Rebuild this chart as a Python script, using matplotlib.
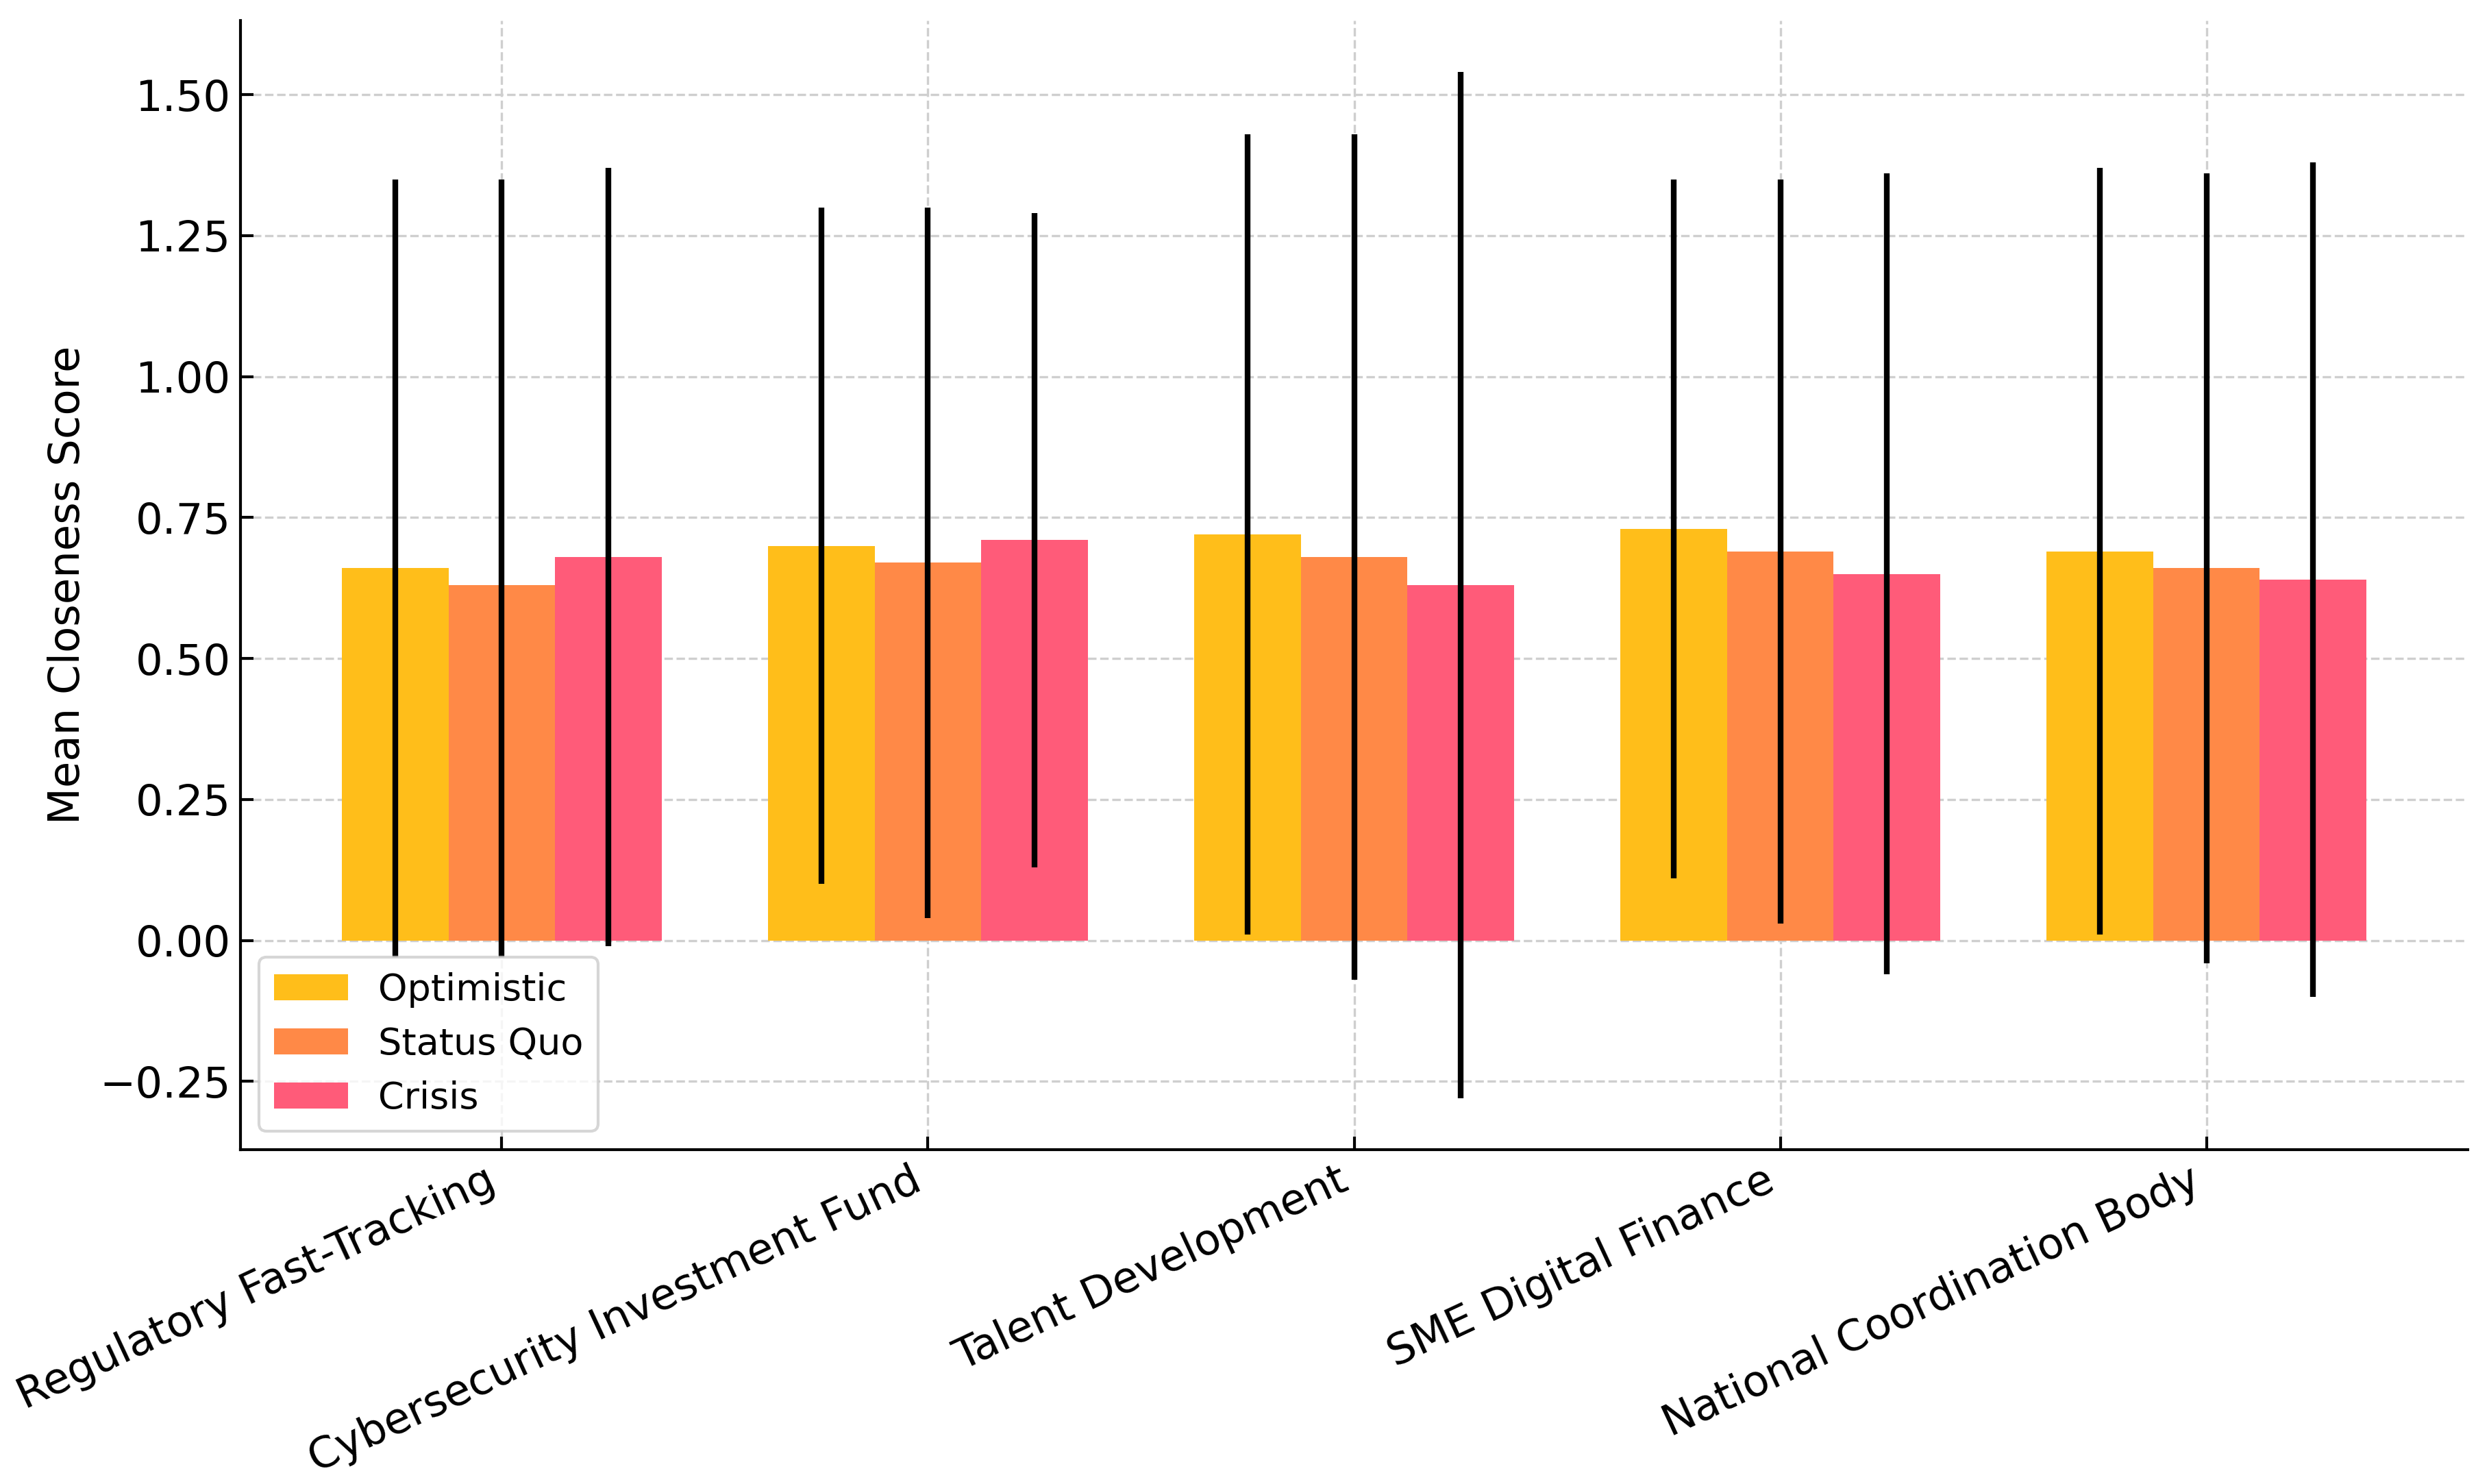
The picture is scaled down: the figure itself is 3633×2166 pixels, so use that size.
import matplotlib
matplotlib.use('Agg')
import matplotlib.pyplot as plt
import numpy as np


policies = ['Regulatory Fast-Tracking', 'Cybersecurity Investment Fund',
            'Talent Development', 'SME Digital Finance', 'National Coordination Body']
scenarios = ['Optimistic', 'Status Quo', 'Crisis']

# mean closeness scores per scenario
optimistic = [0.66, 0.70, 0.72, 0.73, 0.69]
status_quo = [0.63, 0.67, 0.68, 0.69, 0.66]
crisis = [0.68, 0.71, 0.63, 0.65, 0.64]

# error bar half-widths (status quo lower/upper differ for the first policy)
optimistic_err = [0.69, 0.60, 0.71, 0.62, 0.68]
status_quo_err_lo = [0.66, 0.63, 0.75, 0.66, 0.70]
status_quo_err_hi = [0.72, 0.63, 0.75, 0.66, 0.70]
crisis_err = [0.69, 0.58, 0.91, 0.71, 0.74]

colors = ['#FFBE1A', '#FF8947', '#FF5B79']

plt.rcParams['font.family'] = 'DejaVu Sans'

fig, ax = plt.subplots(figsize=(3633 / 300, 2166 / 300), dpi=300)
fig.subplots_adjust(left=0.0967, right=0.9914, bottom=0.2253, top=0.986)

x = np.arange(len(policies))
width = 0.25
err_kw = dict(ecolor='black', elinewidth=2.0, capsize=0)

ax.bar(x - width, optimistic, width, yerr=optimistic_err, color=colors[0],
       label=scenarios[0], error_kw=err_kw, zorder=2)
ax.bar(x, status_quo, width, yerr=[status_quo_err_lo, status_quo_err_hi],
       color=colors[1], label=scenarios[1], error_kw=err_kw, zorder=2)
ax.bar(x + width, crisis, width, yerr=crisis_err, color=colors[2],
       label=scenarios[2], error_kw=err_kw, zorder=2)

ax.set_xticks(x)
ax.set_xticklabels(policies, rotation=25, ha='right', fontsize=15)
ax.set_ylabel('Mean Closeness Score', fontsize=15)
ax.tick_params(axis='y', labelsize=15)
ax.tick_params(direction='in', length=4.5, width=1.0)

ax.spines['top'].set_visible(False)
ax.spines['right'].set_visible(False)
ax.spines['left'].set_linewidth(1.0)
ax.spines['bottom'].set_linewidth(1.0)

ax.grid(True, linestyle='--', linewidth=0.8, color='#cfcfcf', zorder=0)
ax.set_axisbelow(True)

ax.legend(loc='lower left', fontsize=13)

plt.savefig('out.png', dpi=300)
